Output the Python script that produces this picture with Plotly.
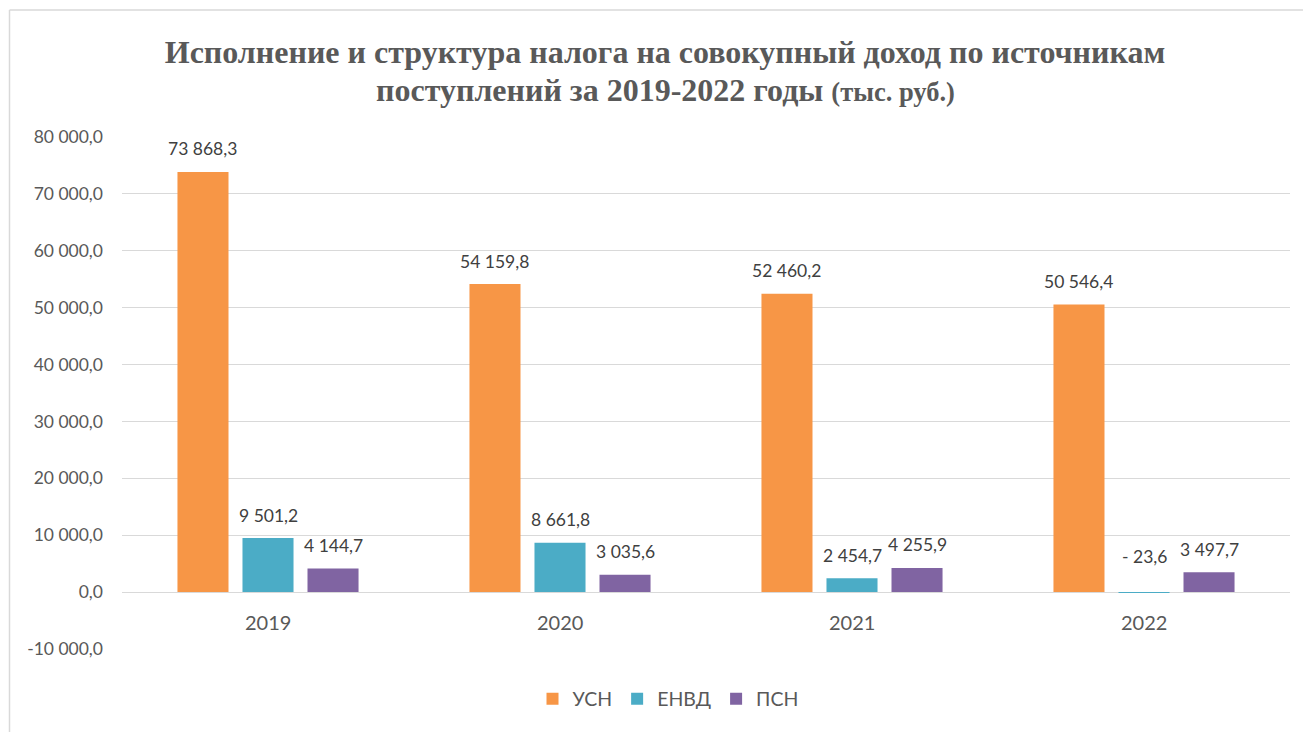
import plotly.graph_objects as go

years = ["2019", "2020", "2021", "2022"]
series_names = ["УСН", "ЕНВД", "ПСН"]
usn = [73868.3, 54159.8, 52460.2, 50546.4]
envd = [9501.2, 8661.8, 2454.7, -23.6]
psn = [4144.7, 3035.6, 4255.9, 3497.7]
colors = ["#F79646", "#4BACC6", "#8064A2"]
y_ticks = [-10000, 0, 10000, 20000, 30000, 40000, 50000, 60000, 70000, 80000]
title_line1 = "Исполнение и структура налога на совокупный доход по источникам"
title_line2 = "поступлений за 2019-2022 годы"
title_unit = "(тыс. руб.)"


def fmt(v):
    s = f"{abs(v):,.1f}".replace(",", " ").replace(".", ",")
    return ("- " + s) if v < 0 else s


def fmt_tick(v):
    s = f"{abs(v):,.1f}".replace(",", " ").replace(".", ",")
    return ("-" + s) if v < 0 else s


OFF = 8  # page body margin (figure origin sits at page (8, 8))
W, H = 1311, 732
# plot area in page pixels: left 122, right 1290, top 137, bottom 649
ml = 122 - OFF
mt = 137 - OFF
mr = W - (1290 - OFF)
mb = H - (649 - OFF)
pw = W - ml - mr
ph = H - mt - mb

bargap = 0.332
bargroupgap = 0.215
FONT = "Lato, Carlito, Calibri, sans-serif"
SERIF = "Liberation Serif, Times New Roman, serif"


def px2x(p):  # page px -> paper x
    return (p - OFF - ml) / pw


def px2y(p):  # page px -> paper y
    return (H - mb - (p - OFF)) / ph


fig = go.Figure()
all_series = [usn, envd, psn]
for name, vals, c in zip(series_names, all_series, colors):
    fig.add_trace(go.Bar(x=years, y=vals, name=name, marker=dict(color=c, line=dict(width=0))))

annotations = []
slot = (1 - bargap) / 3
for i, vals in enumerate(all_series):
    for j, v in enumerate(vals):
        annotations.append(dict(
            x=j + (i - 1) * slot, y=max(v, 0), xref="x", yref="y",
            text=fmt(v), showarrow=False, yanchor="middle",
            yshift=23 if v >= 0 else 36,
            font=dict(family=FONT, size=17.5, color="#404040")))
for j, yr in enumerate(years):
    annotations.append(dict(
        x=j, y=0, xref="x", yref="y", text=yr, showarrow=False,
        yanchor="middle", yshift=-30,
        font=dict(family=FONT, size=20, color="#595959")))
annotations.append(dict(
    x=px2x(665), y=px2y(90), xref="paper", yref="paper", xanchor="center", yanchor="middle",
    showarrow=False,
    text=f"<b>{title_line2} <span style='font-size:26.5px'>{title_unit}</span></b>",
    font=dict(family=SERIF, size=32, color="#595959")))

shapes = [
    dict(type="line", xref="paper", yref="paper", x0=px2x(9.5), x1=px2x(1330),
         y0=px2y(10), y1=px2y(10), line=dict(color="#D9D9D9", width=1.5)),
    dict(type="line", xref="paper", yref="paper", x0=px2x(9.5), x1=px2x(9.5),
         y0=px2y(10), y1=px2y(760), line=dict(color="#D9D9D9", width=1.5)),
]

fig.update_layout(
    width=W, height=H,
    margin=dict(l=ml, r=mr, t=mt, b=mb),
    paper_bgcolor="white", plot_bgcolor="white",
    barmode="group", bargap=bargap, bargroupgap=bargroupgap,
    title=dict(
        text=title_line1,
        x=(665 - OFF) / W, xanchor="center", xref="container",
        y=1 - (52 - OFF) / H, yanchor="middle", yref="container",
        font=dict(family=SERIF, size=32, color="#595959", weight="bold"),
    ),
    xaxis=dict(showticklabels=False, showgrid=False, zeroline=False, showline=False, ticks=""),
    yaxis=dict(range=[-10000, 80000], tickvals=y_ticks,
               ticktext=[fmt_tick(v) for v in y_ticks],
               showgrid=True, gridcolor="#D9D9D9", gridwidth=1, zeroline=True, zerolinecolor="#D9D9D9",
               zerolinewidth=1, showline=False, ticks="", ticklabelstandoff=18,
               tickfont=dict(family=FONT, size=17.5, color="#595959")),
    legend=dict(orientation="h", x=px2x(668), xanchor="center", y=px2y(699), yanchor="middle",
                font=dict(family=FONT, size=19.5, color="#595959"), traceorder="normal"),
    annotations=annotations,
    shapes=shapes,
)

fig.write_html("out.html")
